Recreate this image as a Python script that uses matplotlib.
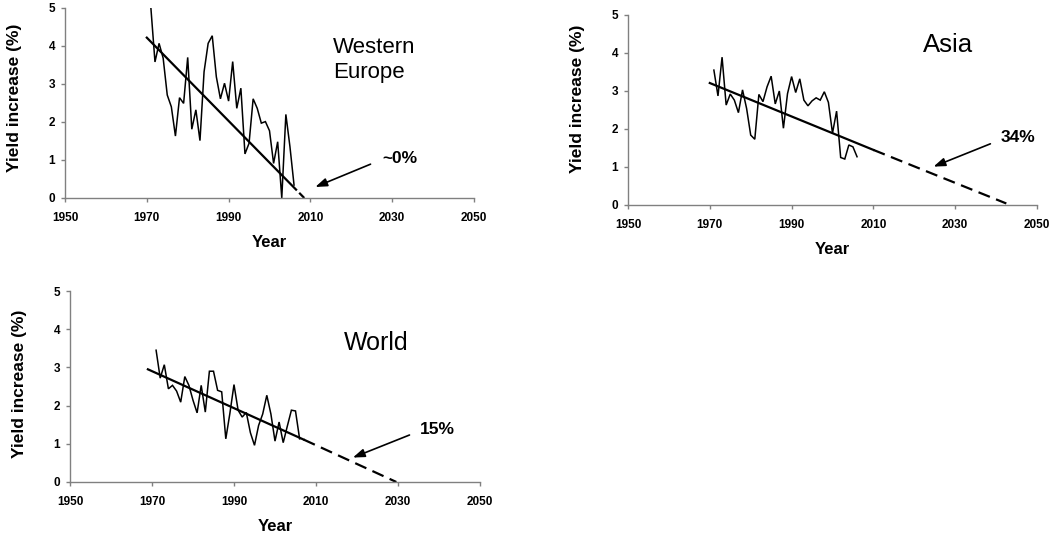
import numpy as np
import matplotlib.pyplot as plt

plt.rcParams["font.family"] = ["Liberation Sans", "DejaVu Sans"]

# yearly yield increase (%), 1971-2006
YEARS = np.arange(1971, 2007)

EUROPE_VALUES = [5.0, 3.58, 4.07, 3.68, 2.71, 2.40, 1.63, 2.64, 2.49, 3.70,
                 1.81, 2.32, 1.51, 3.32, 4.07, 4.27, 3.19, 2.61, 3.02, 2.55,
                 3.59, 2.36, 2.89, 1.16, 1.44, 2.61, 2.36, 1.97, 2.01, 1.77,
                 0.91, 1.48, 0.0, 2.20, 1.35, 0.34]

ASIA_VALUES = [3.55, 2.87, 3.89, 2.63, 2.92, 2.76, 2.43, 3.03, 2.54, 1.84,
               1.73, 2.91, 2.72, 3.11, 3.39, 2.66, 3.00, 2.02, 2.93, 3.38,
               2.96, 3.32, 2.76, 2.61, 2.74, 2.82, 2.76, 2.98, 2.70, 1.89,
               2.47, 1.25, 1.21, 1.58, 1.53, 1.27]

WORLD_VALUES = [3.45, 2.72, 3.07, 2.44, 2.53, 2.38, 2.09, 2.76, 2.53, 2.14,
                1.81, 2.53, 1.83, 2.90, 2.90, 2.40, 2.36, 1.13, 1.80, 2.55,
                1.88, 1.70, 1.82, 1.29, 0.96, 1.48, 1.78, 2.27, 1.78, 1.07,
                1.57, 1.03, 1.46, 1.88, 1.86, 1.13]

# linear trends: fitted part (solid) then projection to zero (dashed)
EUROPE_TREND_YEARS = [1970, 2006.5, 2008.5]
EUROPE_TREND_VALUES = [4.22, 0.22, 0.0]
ASIA_TREND_YEARS = [1970, 2010, 2042.5]
ASIA_TREND_VALUES = [3.21, 1.45, 0.04]
WORLD_TREND_YEARS = [1969, 2007, 2029.6]
WORLD_TREND_VALUES = [2.95, 1.11, 0.0]

X_TICKS = [1950, 1970, 1990, 2010, 2030, 2050]
Y_TICKS = [0, 1, 2, 3, 4, 5]

AXIS_COLOR = "#808080"
W, H = 1050, 535


def draw_panel(fig, box, values, trend_years, trend_values, name, name_xy, name_size,
               pct, pct_xy, arrow_tail, arrow_head, ylabel_y, dash_offset=0):
    left, top, right, bottom = box
    ax = fig.add_axes([left / W, 1 - bottom / H, (right - left) / W, (bottom - top) / H])

    ax.plot(YEARS, values, color="black", lw=1.1, solid_joinstyle="miter")
    ax.plot(trend_years[:2], trend_values[:2], color="black", lw=1.6)
    ax.plot(trend_years[1:], trend_values[1:], color="black", lw=1.6,
            linestyle=(dash_offset, (5.5, 3)))

    ax.text(name_xy[0], name_xy[1], name, fontsize=name_size, ha="left", va="center",
            linespacing=1.2)
    ax.text(pct_xy[0], pct_xy[1], pct, fontsize=12.5, fontweight="bold",
            ha="left", va="center")
    ax.annotate("", xy=arrow_head, xytext=arrow_tail,
                arrowprops=dict(arrowstyle="-|>,head_length=0.7,head_width=0.25",
                                color="black", lw=1.2, mutation_scale=10,
                                shrinkA=0, shrinkB=0))

    ax.set_xlim(1950, 2050)
    ax.set_ylim(0, 5)
    ax.set_xticks(X_TICKS)
    ax.set_yticks(Y_TICKS)
    for s in ("top", "right"):
        ax.spines[s].set_visible(False)
    for s in ("left", "bottom"):
        ax.spines[s].set_color(AXIS_COLOR)
        ax.spines[s].set_linewidth(1.0)
    ax.tick_params(direction="out", length=3, width=1.0, color=AXIS_COLOR, labelsize=8.5)
    ax.tick_params(axis="x", pad=7)
    ax.tick_params(axis="y", pad=4)
    for lbl in ax.get_xticklabels() + ax.get_yticklabels():
        lbl.set_fontweight("bold")

    ax.set_xlabel("Year", fontsize=12, fontweight="bold", va="center")
    ax.xaxis.set_label_coords(0.5, -0.232)
    ax.set_ylabel("Yield increase (%)", fontsize=12.5, fontweight="bold", va="center")
    ax.yaxis.set_label_coords(-0.123, ylabel_y)
    return ax


fig = plt.figure(figsize=(W / 100, H / 100), dpi=100)

draw_panel(fig, (65, 8, 474, 198), EUROPE_VALUES, EUROPE_TREND_YEARS, EUROPE_TREND_VALUES,
           "Western\nEurope", (2015.5, 3.63), 16, "~0%", (2027.6, 1.04),
           (2024.7, 0.89), (2011.2, 0.29), 0.526, dash_offset=6.5)
draw_panel(fig, (628, 15, 1037, 205), ASIA_VALUES, ASIA_TREND_YEARS, ASIA_TREND_VALUES,
           "Asia", (2022.2, 4.22), 18.5, "34%", (2041.1, 1.78),
           (2038.6, 1.61), (2024.7, 1.01), 0.56)
draw_panel(fig, (70, 291, 480, 482), WORLD_VALUES, WORLD_TREND_YEARS, WORLD_TREND_VALUES,
           "World", (2016.7, 3.63), 18, "15%", (2035.4, 1.38),
           (2032.8, 1.23), (2019.0, 0.64), 0.512)

fig.savefig("out.png", dpi=100)
